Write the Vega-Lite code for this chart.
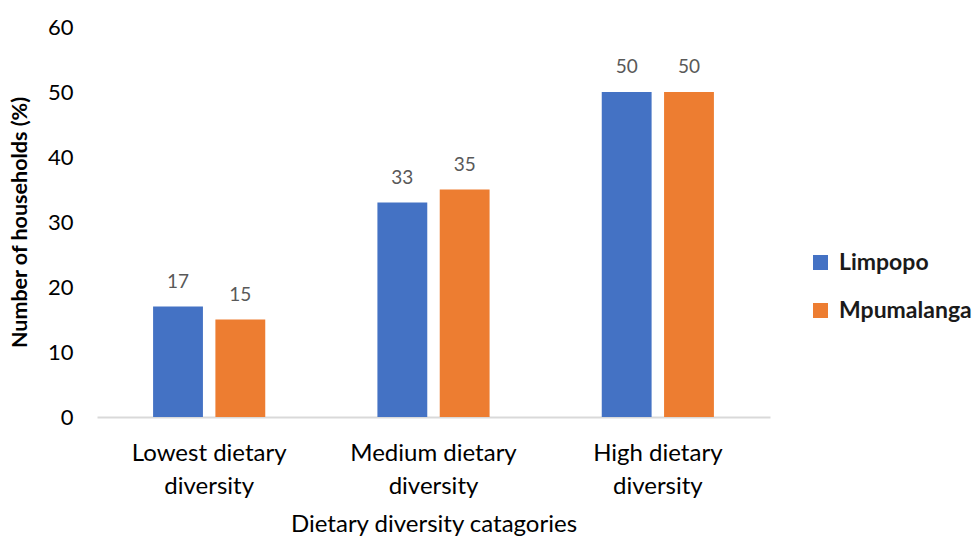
{
  "$schema": "https://vega.github.io/schema/vega-lite/v6.json",
  "width": 673,
  "height": 390,
  "padding": {"left": 9, "top": 16, "right": 0, "bottom": 0},
  "background": "white",
  "config": {
    "font": "Lato",
    "view": {"stroke": null}
  },
  "data": {
    "values": [
      {"category": "Lowest dietary diversity", "province": "Limpopo", "value": 17},
      {"category": "Lowest dietary diversity", "province": "Mpumalanga", "value": 15},
      {"category": "Medium dietary diversity", "province": "Limpopo", "value": 33},
      {"category": "Medium dietary diversity", "province": "Mpumalanga", "value": 35},
      {"category": "High dietary diversity", "province": "Limpopo", "value": 50},
      {"category": "High dietary diversity", "province": "Mpumalanga", "value": 50}
    ]
  },
  "encoding": {
    "x": {
      "field": "category",
      "type": "nominal",
      "sort": null,
      "scale": {"paddingInner": 0.5, "paddingOuter": 0.25},
      "axis": {
        "title": "Dietary diversity catagories",
        "titleFont": "Lato",
        "titleFontSize": 24,
        "titleFontWeight": "normal",
        "titleColor": "#000000",
        "titlePadding": 14,
        "labelAngle": 0,
        "labelFont": "Lato",
        "labelFontSize": 24,
        "labelColor": "#000000",
        "labelLineHeight": 33,
        "labelPadding": 24,
        "labelExpr": "[replace(datum.label, ' diversity', ''), 'diversity']",
        "ticks": false,
        "domainColor": "#d9d9d9",
        "domainWidth": 2
      }
    },
    "xOffset": {
      "field": "province",
      "type": "nominal",
      "scale": {"paddingInner": 0.2, "paddingOuter": 0}
    },
    "y": {
      "field": "value",
      "type": "quantitative",
      "scale": {"domain": [0, 60]},
      "axis": {
        "title": "Number of households (%)",
        "titleFont": "Lato",
        "titleFontSize": 21.5,
        "titleFontWeight": "bold",
        "titleColor": "#000000",
        "titlePadding": 16,
        "values": [0, 10, 20, 30, 40, 50, 60],
        "labelOverlap": false,
        "labelFont": "Lato",
        "labelFontSize": 22,
        "labelColor": "#000000",
        "labelPadding": 24,
        "ticks": false,
        "domain": false,
        "grid": false
      }
    }
  },
  "layer": [
    {
      "mark": {"type": "bar"},
      "encoding": {
        "color": {
          "field": "province",
          "type": "nominal",
          "scale": {"domain": ["Limpopo", "Mpumalanga"], "range": ["#4472C4", "#ED7D31"]},
          "legend": {
            "title": null,
            "orient": "none",
            "legendX": 712,
            "legendY": 224,
            "symbolType": "square",
            "symbolSize": 225,
            "symbolStrokeWidth": 0,
            "labelFont": "Lato",
            "labelFontSize": 23,
            "labelFontWeight": "bold",
            "labelColor": "#1a1a1a",
            "rowPadding": 24,
            "labelOffset": 7
          }
        }
      }
    },
    {
      "mark": {"type": "text", "baseline": "alphabetic", "dy": -19, "fontSize": 19, "color": "#595959", "font": "Lato"},
      "encoding": {
        "text": {"field": "value", "type": "quantitative"}
      }
    }
  ]
}
